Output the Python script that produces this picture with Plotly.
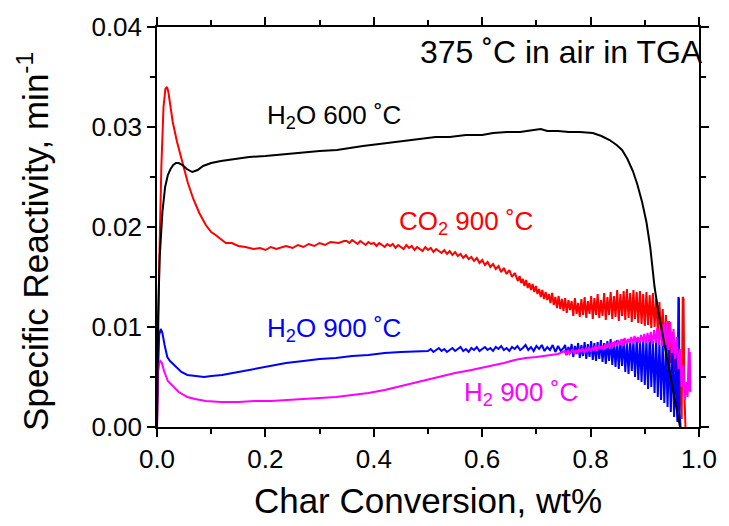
import plotly.graph_objects as go

# ---- data ----
# H2O 600 C (black)
h2o600_x = [0, 0.002, 0.005, 0.01, 0.015, 0.02, 0.025, 0.03, 0.035, 0.04, 0.047, 0.055, 0.065, 0.075,
            0.085, 0.1, 0.118, 0.14, 0.17, 0.2, 0.238, 0.27, 0.3, 0.332, 0.354, 0.38, 0.41, 0.44, 0.481,
            0.514, 0.54, 0.57, 0.6, 0.62, 0.646, 0.67, 0.695, 0.708, 0.72, 0.74, 0.76, 0.78, 0.804,
            0.82, 0.835, 0.848, 0.858, 0.868, 0.878, 0.886, 0.895, 0.903, 0.91, 0.918, 0.925, 0.933,
            0.94, 0.948, 0.955, 0.96, 0.965]
h2o600_y = [0, 0.011, 0.017, 0.0215, 0.024, 0.0252, 0.0258, 0.0262, 0.0264, 0.0264, 0.0262, 0.0258,
            0.0255, 0.0257, 0.0261, 0.0264, 0.0266, 0.0268, 0.0270, 0.0271, 0.0273, 0.0275, 0.0276,
            0.0277, 0.0279, 0.0281, 0.0283, 0.0285, 0.0288, 0.0290, 0.0290, 0.0292, 0.0292, 0.0294,
            0.0295, 0.0295, 0.0297, 0.0298, 0.0296, 0.0296, 0.0295, 0.0295, 0.0294, 0.0291, 0.0287,
            0.0282, 0.0277, 0.0268, 0.0256, 0.0243, 0.0225, 0.0205, 0.0180, 0.0140, 0.0115, 0.0092,
            0.0072, 0.0050, 0.0030, 0.0015, 0.0]

# CO2 900 C (red): smooth start, then noisy segments sampled on a fixed x step
co2_start_x = [0, 0.001, 0.004, 0.008, 0.012, 0.0155, 0.0185, 0.021, 0.025, 0.029, 0.037, 0.045, 0.05,
               0.057, 0.067, 0.078, 0.09, 0.1, 0.108, 0.118, 0.127, 0.138, 0.15, 0.163, 0.178, 0.19,
               0.2, 0.21, 0.22, 0.238, 0.25, 0.26, 0.27, 0.28, 0.29, 0.3, 0.31, 0.32, 0.335, 0.345]
co2_start_y = [0, 0.006, 0.016, 0.026, 0.032, 0.0338, 0.034, 0.0335, 0.032, 0.0305, 0.0285, 0.0268,
               0.0256, 0.0244, 0.0228, 0.0214, 0.0202, 0.0195, 0.0192, 0.0188, 0.0184, 0.0184, 0.0181,
               0.0180, 0.0178, 0.0179, 0.0177, 0.0180, 0.0178, 0.0181, 0.0179, 0.0182, 0.0180, 0.0183,
               0.0181, 0.0184, 0.0182, 0.0185, 0.0184, 0.0186]
co2_seg1_x0, co2_seg1_dx = 0.35, 0.005
co2_seg1_y = [0.0186, 0.0184, 0.0187, 0.0185, 0.0183, 0.0186, 0.0184, 0.0182, 0.0185, 0.0183,
              0.0184, 0.0181, 0.0184, 0.0182, 0.0180, 0.0183, 0.0181, 0.0183, 0.0179, 0.0182,
              0.0180, 0.0178, 0.0182, 0.0179, 0.0181, 0.0177, 0.0180, 0.0178, 0.0176, 0.0180,
              0.0177, 0.0179, 0.0175, 0.0178, 0.0176, 0.0174, 0.0177, 0.0173, 0.0176, 0.0172,
              0.0175, 0.0171, 0.0173, 0.0169, 0.0172, 0.0168, 0.0170, 0.0166, 0.0169, 0.0164,
              0.0167, 0.0162, 0.0165, 0.0160, 0.0163, 0.0158, 0.0161, 0.0155, 0.0159, 0.0153,
              0.0157, 0.0150, 0.0154]
co2_seg2_x0, co2_seg2_dx = 0.663, 0.003
co2_seg2_y = [0.0150, 0.0146, 0.0151, 0.0144, 0.0148, 0.0141, 0.0147, 0.0139, 0.0144, 0.0137,
              0.0143, 0.0135, 0.0141, 0.0133, 0.0138, 0.0130, 0.0137, 0.0128, 0.0135, 0.0127,
              0.0133, 0.0124, 0.0134, 0.0122, 0.0130, 0.0119, 0.0131, 0.0118, 0.0128, 0.0116,
              0.0129, 0.0114, 0.0127, 0.0117, 0.0126, 0.0111, 0.0129, 0.0113, 0.0124, 0.0110,
              0.0128, 0.0112, 0.0130, 0.0109, 0.0126, 0.0113, 0.0131, 0.0108, 0.0129, 0.0112,
              0.0133, 0.0109, 0.0127, 0.0111, 0.0134, 0.0107, 0.0130, 0.0112, 0.0135, 0.0108,
              0.0131, 0.0110, 0.0137, 0.0106, 0.0133, 0.0111, 0.0136, 0.0107, 0.0138, 0.0109,
              0.0134, 0.0105, 0.0137, 0.0108, 0.0135, 0.0104, 0.0136, 0.0103, 0.0133, 0.0101,
              0.0135, 0.0102, 0.0132, 0.0099, 0.0134, 0.0100, 0.0128, 0.0094, 0.0125, 0.0090,
              0.0118, 0.0080, 0.0112, 0.0071, 0.0106, 0.0064, 0.0095, 0.0055, 0.0082, 0.0045,
              0.0070, 0.0020]
co2_end_x = [0.968, 0.970, 0.9715, 0.973, 0.975]
co2_end_y = [0.0008, 0.0130, 0.0128, 0.0035, 0.0]

# H2O 900 C (blue)
h2o900_start_x = [0, 0.002, 0.004, 0.007, 0.01, 0.014, 0.019, 0.024, 0.035, 0.045, 0.056, 0.07, 0.087,
                  0.1, 0.12, 0.15, 0.178, 0.21, 0.238, 0.27, 0.3, 0.33, 0.36, 0.39, 0.42, 0.45, 0.49]
h2o900_start_y = [0.0022, 0.0075, 0.0092, 0.0098, 0.0094, 0.0082, 0.0070, 0.0066, 0.0060, 0.0055,
                  0.0052, 0.0051, 0.0050, 0.0051, 0.0052, 0.0055, 0.0058, 0.0061, 0.0064, 0.0066,
                  0.0068, 0.0069, 0.0071, 0.0072, 0.0074, 0.0075, 0.0076]
h2o900_seg1_x0, h2o900_seg1_dx = 0.50, 0.005
h2o900_seg1_y = [0.0076, 0.0078, 0.0075, 0.0077, 0.0079, 0.0076, 0.0078, 0.0075, 0.0077, 0.0079,
                 0.0076, 0.0078, 0.0080, 0.0076, 0.0078, 0.0075, 0.0079, 0.0077, 0.0080, 0.0076,
                 0.0078, 0.0080, 0.0077, 0.0079, 0.0076, 0.0080, 0.0078, 0.0081, 0.0077, 0.0079,
                 0.0076, 0.0080, 0.0078, 0.0081, 0.0077, 0.0079, 0.0082, 0.0077, 0.0080, 0.0076,
                 0.0081, 0.0078, 0.0082, 0.0076, 0.0080, 0.0077, 0.0082, 0.0075, 0.0081, 0.0076,
                 0.0079]
h2o900_seg2_x0, h2o900_seg2_dx = 0.753, 0.003
h2o900_seg2_y = [0.0082, 0.0072, 0.0080, 0.0074, 0.0083, 0.0070, 0.0081, 0.0073, 0.0084, 0.0069,
                 0.0082, 0.0071, 0.0085, 0.0068, 0.0083, 0.0070, 0.0086, 0.0067, 0.0084, 0.0066,
                 0.0085, 0.0068, 0.0087, 0.0065, 0.0084, 0.0063, 0.0086, 0.0066, 0.0088, 0.0062,
                 0.0085, 0.0060, 0.0087, 0.0058, 0.0086, 0.0061, 0.0088, 0.0055, 0.0085, 0.0053,
                 0.0088, 0.0056, 0.0087, 0.0050, 0.0089, 0.0047, 0.0086, 0.0045, 0.0090, 0.0042,
                 0.0087, 0.0038, 0.0091, 0.0040, 0.0086, 0.0034, 0.0088, 0.0030, 0.0085, 0.0027,
                 0.0084, 0.0024, 0.0082, 0.0020, 0.0080, 0.0015, 0.0078, 0.0010, 0.0075, 0.0005]
h2o900_end_x = [0.961, 0.962, 0.963, 0.964, 0.966]
h2o900_end_y = [0.0060, 0.0130, 0.0128, 0.0015, 0.0]

# H2 900 C (magenta)
h2_start_x = [0, 0.002, 0.004, 0.006, 0.009, 0.013, 0.02, 0.03, 0.04, 0.056, 0.07, 0.09, 0.118, 0.15,
              0.18, 0.21, 0.238, 0.27, 0.3, 0.33, 0.36, 0.39, 0.42, 0.45, 0.49, 0.52, 0.55, 0.58,
              0.617, 0.64, 0.66, 0.68, 0.70, 0.726, 0.74]
h2_start_y = [0.0, 0.0055, 0.0064, 0.0066, 0.0064, 0.0056, 0.0046, 0.0040, 0.0035, 0.0030, 0.0028,
              0.0026, 0.0025, 0.0025, 0.0026, 0.0026, 0.0027, 0.0028, 0.0029, 0.0030, 0.0032, 0.0034,
              0.0037, 0.0041, 0.0046, 0.0050, 0.0054, 0.0057, 0.0061, 0.0064, 0.0067, 0.0069, 0.0070,
              0.0072, 0.0073]
h2_seg_x0, h2_seg_dx = 0.752, 0.003
h2_seg_y = [0.0076, 0.0072, 0.0077, 0.0073, 0.0075, 0.0078, 0.0073, 0.0077, 0.0074, 0.0078,
            0.0075, 0.0079, 0.0074, 0.0078, 0.0076, 0.0080, 0.0075, 0.0079, 0.0077, 0.0081,
            0.0076, 0.0082, 0.0078, 0.0081, 0.0077, 0.0083, 0.0079, 0.0084, 0.0078, 0.0085,
            0.0080, 0.0086, 0.0081, 0.0087, 0.0082, 0.0088, 0.0081, 0.0089, 0.0083, 0.0088,
            0.0084, 0.0090, 0.0083, 0.0091, 0.0085, 0.0090, 0.0084, 0.0092, 0.0085, 0.0093,
            0.0084, 0.0094, 0.0085, 0.0095, 0.0083, 0.0097, 0.0084, 0.0099, 0.0082, 0.0101,
            0.0081, 0.0103, 0.0079, 0.0106, 0.0077, 0.0105, 0.0074]
h2_end_x = [0.953, 0.956, 0.959, 0.962, 0.965, 0.968, 0.971, 0.974, 0.977, 0.979, 0.981, 0.982,
            0.983, 0.984]
h2_end_y = [0.0098, 0.0068, 0.0090, 0.0058, 0.0078, 0.0040, 0.0062, 0.0027, 0.0045, 0.0030,
            0.0079, 0.0036, 0.0075, 0.0035]

labels = ["H<sub>2</sub>O 600 ˚C", "CO<sub>2</sub> 900 ˚C", "H<sub>2</sub>O 900 ˚C", "H<sub>2</sub> 900 ˚C"]
label_x = [0.2, 0.442, 0.2, 0.563]
label_y = [0.0311, 0.0205, 0.0098, 0.0034]
colors = ["#000000", "#FF0000", "#0000FF", "#FF00FF"]
note_text = "375 ˚C in air in TGA"

x_ticks = [0.0, 0.2, 0.4, 0.6, 0.8, 1.0]
y_ticks = [0.00, 0.01, 0.02, 0.03, 0.04]

FONT = "Liberation Sans, Arial, sans-serif"


def grid(x0, dx, vals):
    return [round(x0 + dx * i, 4) for i in range(len(vals))]


co2_x = co2_start_x + grid(co2_seg1_x0, co2_seg1_dx, co2_seg1_y) + \
    grid(co2_seg2_x0, co2_seg2_dx, co2_seg2_y) + co2_end_x
co2_y = co2_start_y + co2_seg1_y + co2_seg2_y + co2_end_y
h2o900_x = h2o900_start_x + grid(h2o900_seg1_x0, h2o900_seg1_dx, h2o900_seg1_y) + \
    grid(h2o900_seg2_x0, h2o900_seg2_dx, h2o900_seg2_y) + h2o900_end_x
h2o900_y = h2o900_start_y + h2o900_seg1_y + h2o900_seg2_y + h2o900_end_y
h2_x = h2_start_x + grid(h2_seg_x0, h2_seg_dx, h2_seg_y) + h2_end_x
h2_y = h2_start_y + h2_seg_y + h2_end_y

fig = go.Figure()
series = [(co2_x, co2_y, colors[1]), (h2o900_x, h2o900_y, colors[2]),
          (h2_x, h2_y, colors[3]), (h2o600_x, h2o600_y, colors[0])]
for xs, ys, c in series:
    fig.add_trace(go.Scatter(x=xs, y=ys, mode="lines", line=dict(color=c, width=2),
                             showlegend=False, hoverinfo="skip"))

for t, lx, ly, c in zip(labels, label_x, label_y, colors):
    fig.add_annotation(x=lx, y=ly, text=t, showarrow=False, xanchor="left", yanchor="middle",
                       font=dict(family=FONT, size=26, color=c))

fig.add_annotation(x=0.481, y=0.0375, text=note_text, showarrow=False,
                   xanchor="left", yanchor="middle", font=dict(family=FONT, size=32, color="#000000"))

# y-axis title placed as a rotated paper annotation
fig.add_annotation(x=-0.229, y=0.465, xref="paper", yref="paper", text="Specific Reactivity, min<sup>-1</sup>",
                   textangle=-90, showarrow=False, xanchor="center", yanchor="middle",
                   font=dict(family=FONT, size=35, color="#000000"))

axis_common = dict(showline=True, linecolor="#000000", linewidth=1.5, mirror="ticks",
                   ticks="outside", ticklen=8, tickwidth=1.5, tickcolor="#000000",
                   showgrid=False, zeroline=False,
                   tickfont=dict(family=FONT, size=26, color="#000000"))

fig.update_xaxes(range=[0, 1.0], tickvals=x_ticks, ticktext=[f"{v:.1f}" for v in x_ticks],
                 minor=dict(dtick=0.1, tick0=0, ticks="outside", ticklen=5, tickwidth=1.5,
                            tickcolor="#000000", showgrid=False),
                 title=dict(text="Char Conversion, wt%", standoff=16,
                            font=dict(family=FONT, size=35, color="#000000")),
                 **axis_common)
fig.update_yaxes(range=[0, 0.04], tickvals=y_ticks, ticktext=[f"{v:.2f}" for v in y_ticks],
                 minor=dict(dtick=0.005, tick0=0, ticks="outside", ticklen=5, tickwidth=1.5,
                            tickcolor="#000000", showgrid=False),
                 **axis_common)

fig.update_layout(width=729, height=526, margin=dict(l=157, r=21, t=22, b=96),
                  paper_bgcolor="white", plot_bgcolor="white",
                  font=dict(family=FONT, color="#000000"))

fig.write_html("out.html")
